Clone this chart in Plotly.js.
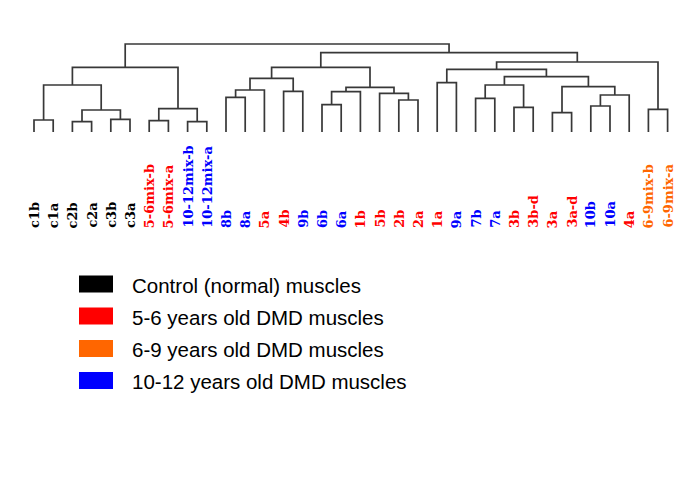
<!DOCTYPE html>
<html>
<head>
<meta charset="utf-8">
<script src="https://cdn.plot.ly/plotly-3.0.1.min.js"></script>
<style>html,body{margin:0;padding:0;background:#fff;}#chart{width:685px;height:482px;}</style>
</head>
<body>
<div id="chart"></div>
<script>
// ---- data ----
const leafLabels = ["c1b","c1a","c2b","c2a","c3b","c3a","5-6mix-b","5-6mix-a","10-12mix-b","10-12mix-a",
  "8b","8a","5a","4b","9b","6b","6a","1b","5b","2b","2a","1a","9a","7b","7a","3b","3b-d","3a","3a-d",
  "10b","10a","4a","6-9mix-b","6-9mix-a"];
// group index per leaf: 0 control, 1 = 5-6y, 2 = 6-9y, 3 = 10-12y
const leafGroups = [0,0,0,0,0,0,1,1,3,3,
  3,3,1,1,3,3,3,1,1,1,1,1,3,3,3,1,1,1,1,
  3,3,1,2,2];
const groupNames = ["Control (normal) muscles","5-6 years old DMD muscles","6-9 years old DMD muscles","10-12 years old DMD muscles"];
const groupColors = ["#000000","#FF0000","#FF6600","#0000FF"];
// merges: [childA, childB, height]; ids < 34 are leaves, new cluster ids start at 34
const merges = [
  [0,1,12],[2,3,10.3],[4,5,12.7],[35,36,22],[34,37,47],
  [6,7,11.3],[8,9,10.3],[39,40,23.3],[38,41,64.7],
  [10,11,34.7],[43,12,42],[13,14,40.7],[44,45,53.7],
  [15,16,27.3],[47,17,40.3],[19,20,32],[18,49,38.7],[48,50,44.7],[46,51,64.7],
  [21,22,49.3],[23,24,33.7],[25,26,24.7],[54,55,47],[27,28,19.3],[29,30,26],[58,31,37],
  [57,59,45.3],[56,60,55.3],[53,61,62.7],[32,33,22.7],[62,63,70],[52,64,79.3],[42,65,88]
];

// ---- build dendrogram segments ----
const n = leafLabels.length;
const nodeX = [], nodeH = [];
for (let i = 0; i < n; i++) { nodeX[i] = i; nodeH[i] = 0; }
const lx = [], ly = [];
merges.forEach((m, k) => {
  const [a, b, h] = m;
  const id = n + k;
  lx.push(nodeX[a], nodeX[a], nodeX[b], nodeX[b], null);
  ly.push(nodeH[a], h, h, nodeH[b], null);
  nodeX[id] = (nodeX[a] + nodeX[b]) / 2;
  nodeH[id] = h;
});

const W = 685, H = 482;
const annotations = leafLabels.map((lab, i) => ({
  x: i, xref: 'x', y: -97, yref: 'y',
  text: '<b>' + lab + '</b>', showarrow: false, textangle: -90,
  xanchor: 'center', yanchor: 'bottom', borderpad: 0,
  font: {family: 'DejaVu Serif, serif', size: 13, color: groupColors[leafGroups[i]]}
}));
const shapes = [];
const rowY = [284, 316, 348.5, 380.5];
groupNames.forEach((g, i) => {
  shapes.push({type: 'rect', xref: 'paper', yref: 'paper',
    x0: 79 / W, x1: 113 / W, y0: 1 - (rowY[i] + 8.5) / H, y1: 1 - (rowY[i] - 8.5) / H,
    fillcolor: groupColors[i], line: {width: 0}});
  annotations.push({x: 130 / W, xref: 'paper', y: 1 - (rowY[i] + 1) / H, yref: 'paper',
    text: g, showarrow: false, xanchor: 'left', yanchor: 'middle',
    font: {family: 'Liberation Sans, Arial', size: 20.5, color: '#000'}});
});

Plotly.newPlot('chart', [{
  x: lx, y: ly, mode: 'lines', type: 'scatter',
  line: {color: '#383838', width: 1.7}, hoverinfo: 'skip', showlegend: false
}], {
  width: W, height: H,
  margin: {l: 0, r: 0, t: 0, b: 0},
  paper_bgcolor: '#fff', plot_bgcolor: '#fff',
  xaxis: {visible: false, range: [-34 / 19.2, -34 / 19.2 + W / 19.2]},
  yaxis: {visible: false, range: [132 - H, 132]},
  annotations: annotations, shapes: shapes, showlegend: false
}, {staticPlot: true});
</script>
</body>
</html>
